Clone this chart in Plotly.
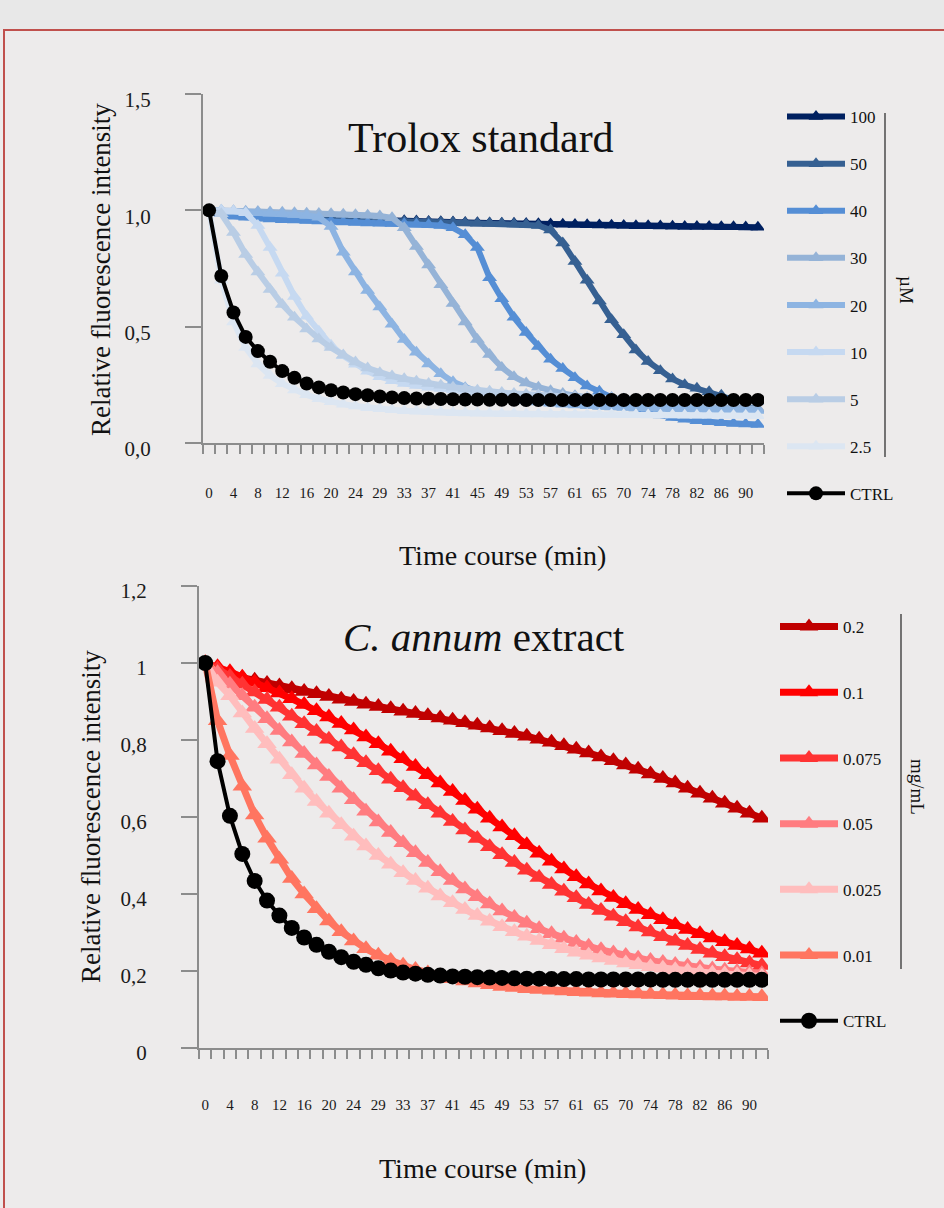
import plotly.graph_objects as go

# ---------------- data ----------------
TIMES = [0, 2, 4, 6, 8, 10, 12, 14, 16, 18, 20, 22, 24, 27, 29, 31, 33, 35, 37, 39, 41, 43,
         45, 47, 49, 51, 53, 55, 57, 59, 61, 63, 65, 68, 70, 72, 74, 76, 78, 80, 82, 84, 86, 88, 90, 92]

# Trolox standard (µM)
TROLOX_NAMES = ["100", "50", "40", "30", "20", "10", "5", "2.5"]
T100 = [1.000, 0.990, 0.984, 0.980, 0.977, 0.975, 0.973, 0.971, 0.969, 0.967, 0.965, 0.963, 0.961, 0.960,
        0.958, 0.957, 0.955, 0.954, 0.952, 0.951, 0.950, 0.948, 0.947, 0.946, 0.945, 0.944, 0.943, 0.942,
        0.941, 0.940, 0.939, 0.938, 0.937, 0.936, 0.935, 0.934, 0.934, 0.933, 0.932, 0.931, 0.931, 0.930,
        0.929, 0.929, 0.928, 0.927]
T50 = [1.000, 0.985, 0.978, 0.974, 0.971, 0.969, 0.967, 0.965, 0.963, 0.962, 0.960, 0.959, 0.957, 0.956,
       0.955, 0.953, 0.952, 0.951, 0.950, 0.949, 0.948, 0.946, 0.945, 0.944, 0.943, 0.941, 0.939, 0.935,
       0.915, 0.860, 0.780, 0.700, 0.610, 0.530, 0.465, 0.400, 0.350, 0.310, 0.275, 0.250, 0.235, 0.220,
       0.205, 0.185, 0.165, 0.145]
T40 = [1.000, 0.985, 0.975, 0.970, 0.966, 0.963, 0.960, 0.958, 0.956, 0.954, 0.952, 0.950, 0.948, 0.946,
       0.945, 0.943, 0.942, 0.940, 0.938, 0.935, 0.925, 0.895, 0.840, 0.710, 0.620, 0.540, 0.475, 0.415,
       0.360, 0.320, 0.280, 0.245, 0.222, 0.195, 0.170, 0.150, 0.133, 0.120, 0.110, 0.102, 0.096, 0.091,
       0.087, 0.084, 0.082, 0.080]
T30 = [1.000, 1.000, 0.998, 0.996, 0.995, 0.993, 0.992, 0.990, 0.988, 0.986, 0.985, 0.983, 0.981, 0.979,
       0.976, 0.968, 0.925, 0.845, 0.765, 0.680, 0.600, 0.520, 0.445, 0.380, 0.325, 0.285, 0.258, 0.240,
       0.225, 0.213, 0.203, 0.195, 0.188, 0.182, 0.177, 0.172, 0.168, 0.164, 0.161, 0.158, 0.156, 0.154,
       0.152, 0.150, 0.149, 0.148]
T20 = [1.000, 0.998, 0.995, 0.992, 0.990, 0.988, 0.985, 0.982, 0.978, 0.970, 0.930, 0.820, 0.735, 0.655,
       0.585, 0.510, 0.445, 0.390, 0.340, 0.298, 0.263, 0.238, 0.220, 0.207, 0.197, 0.189, 0.182, 0.176,
       0.171, 0.167, 0.163, 0.160, 0.157, 0.155, 0.153, 0.151, 0.149, 0.148, 0.147, 0.146, 0.145, 0.144,
       0.143, 0.142, 0.141, 0.140]
T10 = [1.000, 1.000, 0.997, 0.990, 0.935, 0.840, 0.730, 0.630, 0.545, 0.480, 0.420, 0.375, 0.338, 0.308,
       0.285, 0.268, 0.256, 0.247, 0.240, 0.234, 0.228, 0.223, 0.218, 0.214, 0.210, 0.206, 0.203, 0.200,
       0.198, 0.196, 0.194, 0.192, 0.190, 0.189, 0.188, 0.187, 0.186, 0.185, 0.184, 0.183, 0.182, 0.181,
       0.180, 0.179, 0.178, 0.177]
T5 = [1.000, 0.985, 0.905, 0.810, 0.735, 0.660, 0.595, 0.540, 0.490, 0.447, 0.410, 0.378, 0.348, 0.322,
      0.302, 0.288, 0.276, 0.265, 0.256, 0.248, 0.240, 0.233, 0.227, 0.222, 0.217, 0.213, 0.209, 0.206,
      0.203, 0.200, 0.198, 0.196, 0.194, 0.192, 0.190, 0.189, 0.188, 0.187, 0.186, 0.185, 0.184, 0.183,
      0.182, 0.181, 0.180, 0.179]
T2_5 = [1.000, 0.700, 0.520, 0.410, 0.340, 0.290, 0.255, 0.228, 0.207, 0.190, 0.177, 0.167, 0.159, 0.152,
        0.147, 0.143, 0.139, 0.136, 0.134, 0.132, 0.130, 0.129, 0.128, 0.127, 0.126, 0.126, 0.125, 0.125,
        0.124, 0.124, 0.123, 0.123, 0.122, 0.122, 0.121, 0.121, 0.120, 0.120, 0.120, 0.119, 0.119, 0.119,
        0.118, 0.118, 0.118, 0.117]
CTRL_TOP = [1.000, 0.718, 0.561, 0.456, 0.395, 0.349, 0.309, 0.280, 0.256, 0.239, 0.227, 0.217, 0.210, 0.205,
            0.200, 0.196, 0.193, 0.191, 0.190, 0.189, 0.188, 0.187, 0.187, 0.186, 0.186, 0.186, 0.185, 0.185,
            0.185, 0.185, 0.185, 0.185, 0.185, 0.185, 0.185, 0.185, 0.185, 0.185, 0.185, 0.185, 0.185, 0.185,
            0.185, 0.185, 0.185, 0.185]
TROLOX_SERIES = [T100, T50, T40, T30, T20, T10, T5, T2_5]
TROLOX_COLORS = ["#002060", "#366092", "#558ED5", "#95B3D7", "#8DB4E2", "#C6D9F1", "#B9CDE5", "#DCE6F2"]

# C. annum extract (mg/mL)
EXTRACT_NAMES = ["0.2", "0.1", "0.075", "0.05", "0.025", "0.01"]
E0_2 = [1.000, 0.985, 0.970, 0.962, 0.955, 0.947, 0.940, 0.933, 0.926, 0.920, 0.913, 0.906, 0.900, 0.893,
        0.887, 0.881, 0.875, 0.869, 0.863, 0.857, 0.851, 0.845, 0.838, 0.831, 0.824, 0.817, 0.810, 0.802,
        0.794, 0.785, 0.776, 0.766, 0.756, 0.746, 0.735, 0.724, 0.712, 0.700, 0.688, 0.675, 0.662, 0.649,
        0.636, 0.623, 0.610, 0.597]
E0_1 = [1.000, 0.990, 0.977, 0.963, 0.950, 0.936, 0.922, 0.907, 0.892, 0.876, 0.860, 0.843, 0.826, 0.808,
        0.790, 0.771, 0.751, 0.731, 0.710, 0.688, 0.666, 0.643, 0.620, 0.597, 0.574, 0.551, 0.528, 0.506,
        0.485, 0.465, 0.445, 0.426, 0.408, 0.391, 0.375, 0.360, 0.346, 0.333, 0.320, 0.308, 0.297, 0.286,
        0.276, 0.266, 0.257, 0.246]
E0_075 = [1.000, 0.985, 0.965, 0.945, 0.925, 0.905, 0.885, 0.862, 0.842, 0.822, 0.802, 0.782, 0.762, 0.741,
          0.720, 0.698, 0.676, 0.654, 0.632, 0.610, 0.588, 0.566, 0.544, 0.523, 0.502, 0.482, 0.462, 0.443,
          0.425, 0.407, 0.390, 0.373, 0.357, 0.342, 0.328, 0.314, 0.301, 0.289, 0.277, 0.266, 0.256, 0.246,
          0.237, 0.229, 0.221, 0.214]
E0_05 = [1.000, 0.975, 0.945, 0.915, 0.885, 0.855, 0.825, 0.795, 0.765, 0.735, 0.705, 0.675, 0.645, 0.615,
         0.587, 0.560, 0.533, 0.507, 0.482, 0.458, 0.435, 0.413, 0.393, 0.374, 0.356, 0.339, 0.324, 0.310,
         0.297, 0.285, 0.274, 0.264, 0.255, 0.247, 0.240, 0.233, 0.227, 0.222, 0.217, 0.213, 0.209, 0.205,
         0.202, 0.199, 0.196, 0.193]
E0_025 = [1.000, 0.950, 0.915, 0.870, 0.830, 0.790, 0.750, 0.710, 0.675, 0.640, 0.610, 0.580, 0.550, 0.525,
          0.500, 0.477, 0.455, 0.435, 0.415, 0.395, 0.377, 0.360, 0.344, 0.329, 0.315, 0.302, 0.290, 0.279,
          0.268, 0.258, 0.249, 0.241, 0.234, 0.227, 0.221, 0.216, 0.211, 0.207, 0.203, 0.200, 0.197, 0.194,
          0.192, 0.190, 0.188, 0.186]
E0_01 = [1.000, 0.850, 0.760, 0.680, 0.605, 0.545, 0.490, 0.440, 0.400, 0.362, 0.330, 0.302, 0.278, 0.258,
         0.241, 0.227, 0.215, 0.204, 0.195, 0.187, 0.180, 0.174, 0.169, 0.164, 0.160, 0.157, 0.154, 0.152,
         0.150, 0.148, 0.146, 0.145, 0.143, 0.142, 0.141, 0.140, 0.139, 0.138, 0.137, 0.136, 0.136, 0.135,
         0.135, 0.134, 0.134, 0.133]
CTRL_BOTTOM = [1.000, 0.745, 0.603, 0.504, 0.434, 0.383, 0.344, 0.312, 0.287, 0.268, 0.250, 0.236, 0.224,
               0.216, 0.207, 0.201, 0.196, 0.193, 0.190, 0.188, 0.186, 0.185, 0.184, 0.183, 0.182, 0.181,
               0.180, 0.180, 0.179, 0.179, 0.179, 0.178, 0.178, 0.178, 0.178, 0.178, 0.178, 0.177, 0.177,
               0.177, 0.177, 0.177, 0.177, 0.177, 0.177, 0.177]
EXTRACT_SERIES = [E0_2, E0_1, E0_075, E0_05, E0_025, E0_01]
EXTRACT_COLORS = ["#C00000", "#FF0000", "#FF3333", "#FF7C80", "#FFBDBD", "#FF7560"]

for s in TROLOX_SERIES + EXTRACT_SERIES + [CTRL_TOP, CTRL_BOTTOM]:
    assert len(s) == len(TIMES), len(s)

# ---------------- figure ----------------
W, H = 944, 1208
FONT = "Liberation Serif"
AXIS_GREY = "#8C8C8C"
BG = "#EDEBEB"
CAT_POS = list(range(len(TIMES)))          # Excel-style evenly spaced categories
TICK_POS = CAT_POS[::2]
TICK_TEXT = [str(t) for t in TIMES[::2]]
BOUNDARIES = [p - 0.5 for p in CAT_POS] + [CAT_POS[-1] + 0.5]


def px_x(v):
    return v / W


def px_y(v):
    return 1 - v / H


fig = go.Figure()

for name, vals, col in zip(TROLOX_NAMES, TROLOX_SERIES, TROLOX_COLORS):
    fig.add_trace(go.Scatter(
        x=CAT_POS, y=vals, name=name, mode="lines+markers",
        line=dict(color=col, width=6),
        marker=dict(symbol="triangle-up", size=13, color=col),
        xaxis="x", yaxis="y", legend="legend", legendgroup="t" + name))
fig.add_trace(go.Scatter(
    x=CAT_POS, y=CTRL_TOP, name="CTRL", mode="lines+markers",
    line=dict(color="black", width=4),
    marker=dict(symbol="circle", size=14, color="black"),
    xaxis="x", yaxis="y", legend="legend", legendgroup="tctrl"))

for name, vals, col in zip(EXTRACT_NAMES, EXTRACT_SERIES, EXTRACT_COLORS):
    fig.add_trace(go.Scatter(
        x=CAT_POS, y=vals, name=name, mode="lines+markers",
        line=dict(color=col, width=7),
        marker=dict(symbol="triangle-up", size=17, color=col),
        xaxis="x2", yaxis="y2", legend="legend2", legendgroup="e" + name))
fig.add_trace(go.Scatter(
    x=CAT_POS, y=CTRL_BOTTOM, name="CTRL", mode="lines+markers",
    line=dict(color="black", width=4),
    marker=dict(symbol="circle", size=16, color="black"),
    xaxis="x2", yaxis="y2", legend="legend2", legendgroup="ectrl"))


def xaxis_cfg(domain, anchor, standoff):
    return dict(
        domain=domain, anchor=anchor, range=[-0.5, CAT_POS[-1] + 0.5],
        showline=True, linecolor=AXIS_GREY, linewidth=2, showgrid=False, zeroline=False,
        tickmode="array", tickvals=TICK_POS, ticktext=TICK_TEXT, ticks="",
        minor=dict(tickmode="array", tickvals=BOUNDARIES, ticks="outside", ticklen=9,
                   tickwidth=1.5, tickcolor=AXIS_GREY, showgrid=False),
        ticklabelstandoff=standoff,
        tickfont=dict(family=FONT, size=15, color="#1a1a1a"), fixedrange=True)


def yaxis_cfg(domain, anchor, rng, vals, fmt, shift):
    return dict(
        domain=domain, anchor=anchor, range=rng,
        showline=True, linecolor=AXIS_GREY, linewidth=2, showgrid=False, zeroline=False,
        tickmode="array", tickvals=vals, tickformat=fmt, ticks="outside", ticklen=16,
        tickwidth=2, tickcolor=AXIS_GREY, ticklabelstandoff=30, ticklabelshift=shift,
        tickfont=dict(family=FONT, size=21, color="#1a1a1a"), fixedrange=True)


fig.update_layout(
    width=W, height=H,
    margin=dict(l=0, r=0, t=0, b=0, autoexpand=False),
    paper_bgcolor=BG, plot_bgcolor="rgba(0,0,0,0)",
    separators=",.",
    font=dict(family=FONT, color="#111"),
    xaxis=xaxis_cfg([px_x(203), px_x(764)], "y", 35),
    yaxis=yaxis_cfg([px_y(443), px_y(94)], "x", [0, 1.5], [0, 0.5, 1.0, 1.5], ".1f", 6),
    xaxis2=xaxis_cfg([px_x(199), px_x(768)], "y2", 42),
    yaxis2=yaxis_cfg([px_y(1048), px_y(586)], "x2", [0, 1.2], [0, 0.2, 0.4, 0.6, 0.8, 1.0, 1.2], "", 5),
    legend=dict(x=px_x(782), y=px_y(99), xanchor="left", yanchor="top",
                bgcolor="rgba(0,0,0,0)", traceorder="grouped", tracegroupgap=22,
                itemwidth=58, font=dict(family=FONT, size=17, color="#111")),
    legend2=dict(x=px_x(775), y=px_y(609), xanchor="left", yanchor="top",
                 bgcolor="rgba(0,0,0,0)", traceorder="grouped", tracegroupgap=40.6,
                 itemwidth=58, font=dict(family=FONT, size=17, color="#111")),
    showlegend=True,
)

shapes = [
    # top strip outside the frame
    dict(type="rect", xref="paper", yref="paper", x0=0, x1=1, y0=px_y(30), y1=1,
         fillcolor="#E8E8E8", line=dict(width=0), layer="below"),
    # red frame
    dict(type="rect", xref="paper", yref="paper", x0=px_x(4), x1=px_x(960), y0=px_y(1230), y1=px_y(30),
         line=dict(color="#C0504D", width=2), fillcolor="rgba(0,0,0,0)"),
    # unit brackets
    dict(type="line", xref="paper", yref="paper", x0=px_x(885), x1=px_x(885), y0=px_y(113), y1=px_y(457),
         line=dict(color="#222", width=1.2)),
    dict(type="line", xref="paper", yref="paper", x0=px_x(901), x1=px_x(901), y0=px_y(614), y1=px_y(969),
         line=dict(color="#222", width=1.2)),
]
fig.update_layout(shapes=shapes)

ann = [
    dict(text="Trolox standard", x=px_x(481), y=px_y(138), font=dict(size=42)),
    dict(text="<i>C. annum</i> extract", x=px_x(484), y=px_y(637), font=dict(size=41)),
    dict(text="Relative fluorescence intensity", x=px_x(101), y=px_y(270), textangle=-90, font=dict(size=27)),
    dict(text="Relative fluorescence intensity", x=px_x(91), y=px_y(817), textangle=-90, font=dict(size=27)),
    dict(text="Time course (min)", x=px_x(502), y=px_y(555), font=dict(size=28)),
    dict(text="Time course (min)", x=px_x(482), y=px_y(1168), font=dict(size=28)),
    dict(text="µM", x=px_x(907), y=px_y(290), textangle=90, font=dict(size=19)),
    dict(text="mg/mL", x=px_x(918), y=px_y(787), textangle=90, font=dict(size=19)),
]
for a in ann:
    a.update(xref="paper", yref="paper", showarrow=False, xanchor="center", yanchor="middle")
    a["font"] = dict(family=FONT, color="#111", **a["font"])
fig.update_layout(annotations=ann)

fig.write_html(
    "out.html",
    config={"displayModeBar": False},
    post_script="document.body.style.margin='0';document.body.style.background='" + BG + "';",
)
